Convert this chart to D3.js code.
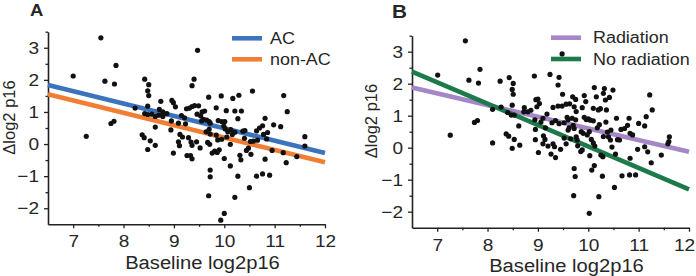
<!DOCTYPE html>
<html><head><meta charset="utf-8">
<script src="https://cdn.jsdelivr.net/npm/d3@7"></script>
<style>
body{margin:0;background:#fff}
svg{display:block}
text{font-family:"Liberation Sans",Arial,Helvetica,sans-serif;fill:#262626}
</style>
</head><body>
<svg id="chart" width="696" height="276"></svg>
<script>
// ---------- data ----------
const xDomain = [6.5, 12];
const yDomain = [-2.5, 3.5];
const xTickValues = [7, 8, 9, 10, 11, 12];
const xMinorTicks = [7.5, 8.5, 9.5, 10.5, 11.5];
const yTickValues = [-2, -1, 0, 1, 2, 3];
const yMinorTicks = [-1.5, -0.5, 0.5, 1.5, 2.5, 3.5];
const xTitle = "Baseline log2p16";
const yTitle = "\u0394log2 p16";
const fitX = [6.5, 12];

const seriesA = ["AC", "non-AC"];
const fitA_AC = [1.84, -0.28];
const fitA_nonAC = [1.55, -0.57];
const seriesB = ["Radiation", "No radiation"];
const fitB_radiation = [1.88, -0.13];
const fitB_noRadiation = [2.38, -1.30];

const pointsA = [
[7.00,2.12],[7.26,0.24],[7.55,3.31],[7.63,1.96],[7.85,2.45],[7.82,1.87],[7.75,0.64],[7.81,0.71],
[8.23,1.12],[8.42,2.02],[8.50,1.85],[8.48,1.66],[8.50,1.51],[8.48,1.18],[8.42,0.95],[8.48,0.92],
[8.56,0.93],[8.63,0.86],[8.37,0.29],[8.41,0.20],[8.53,0.10],[8.48,-0.17],[8.63,-0.04],[8.63,0.53],
[8.74,1.33],[8.71,1.08],[8.78,1.00],[8.86,0.95],[8.78,0.86],[8.70,0.90],[8.96,1.36],[8.99,1.29],
[9.03,1.16],[8.95,0.72],[8.94,0.44],[8.99,-0.28],[9.09,0.07],[9.17,0.22],[9.11,-0.05],[9.15,0.89],
[9.21,0.82],[9.23,0.63],[9.09,0.65],[9.26,-0.36],[9.33,-0.36],[9.29,0.20],[9.34,0.06],[9.36,-0.04],
[9.36,-0.46],[9.31,1.12],[9.36,1.17],[9.41,1.20],[9.49,1.19],[9.36,1.82],[9.40,2.02],[9.47,2.92],
[9.56,1.00],[9.61,1.03],[9.46,0.93],[9.53,0.88],[9.45,0.07],[9.52,-0.12],[9.55,0.72],[9.59,0.77],
[9.65,0.75],[9.70,0.70],[9.72,0.65],[9.69,1.46],[9.84,1.13],[9.70,0.46],[9.72,0.31],[9.64,0.38],
[9.67,0.05],[9.71,-0.01],[9.76,-0.28],[9.81,-0.22],[9.86,-0.26],[9.90,-0.18],[9.72,-0.81],[9.72,-1.02],
[9.69,-1.61],[9.84,0.28],[9.87,0.13],[9.88,0.73],[9.95,0.70],[10.01,0.70],[9.94,1.50],[9.99,0.56],
[10.02,0.47],[10.07,0.38],[10.00,-0.45],[10.00,-2.16],[9.93,-2.37],[10.04,1.04],[10.12,-0.01],[10.12,-0.68],
[10.17,1.42],[10.21,1.03],[10.13,0.45],[10.16,0.30],[10.21,0.37],[10.29,1.52],[10.34,1.03],[10.27,0.79],
[10.31,-0.35],[10.33,-0.49],[10.27,-1.00],[10.21,-1.66],[10.37,0.40],[10.40,0.18],[10.44,-0.20],[10.48,-0.13],
[10.50,-1.36],[10.53,-0.32],[10.52,0.08],[10.58,0.09],[10.56,1.65],[10.64,0.41],[10.70,0.50],[10.76,0.57],
[10.81,0.80],[10.64,-1.00],[10.76,-0.93],[10.90,-0.97],[10.81,-0.47],[10.78,0.30],[10.86,0.36],[10.84,0.16],
[10.98,0.60],[10.95,-0.20],[11.12,0.54],[11.18,1.51],[11.25,1.01],[11.23,-0.58],[11.17,-0.27],[11.44,-0.39],
[11.60,0.23],[11.60,-0.06],[9.25,1.10],[9.12,0.30],[9.95,0.15],[10.05,0.22],[10.41,0.42],[10.66,0.12]
];

const pointsB = [
[7.01,2.27],[7.26,0.39],[7.56,3.34],[7.63,2.11],[7.85,2.45],[7.82,2.02],[7.74,0.79],[7.80,0.85],
[8.10,1.20],[8.10,0.15],[8.25,2.08],[8.27,1.27],[8.43,2.19],[8.51,2.01],[8.49,1.82],[8.51,1.67],
[8.49,1.33],[8.40,1.10],[8.47,1.02],[8.53,1.02],[8.37,0.43],[8.42,0.36],[8.53,0.26],[8.49,-0.02],
[8.64,0.08],[8.62,0.68],[8.73,1.25],[8.72,1.12],[8.80,1.12],[8.86,1.17],[8.93,2.24],[8.96,1.50],
[9.00,1.52],[9.03,1.38],[8.98,1.28],[8.94,0.87],[9.06,0.80],[8.95,0.57],[8.95,0.25],[9.11,0.37],
[9.14,0.26],[9.10,0.12],[9.01,-0.15],[9.18,1.05],[9.24,2.29],[9.42,2.20],[9.40,1.96],[9.49,1.67],
[9.30,1.26],[9.40,1.30],[9.48,1.30],[9.56,1.36],[9.63,1.37],[9.58,0.95],[9.60,0.87],[9.28,0.78],
[9.35,0.85],[9.42,0.75],[9.26,-0.20],[9.35,-0.31],[9.30,0.12],[9.33,0.03],[9.20,0.05],[9.45,-0.05],
[9.52,0.30],[9.56,0.12],[9.60,0.55],[9.62,0.62],[9.69,1.59],[9.75,1.51],[9.72,1.28],[9.76,1.13],
[9.68,0.92],[9.75,0.87],[9.70,0.70],[9.72,0.60],[9.76,0.34],[9.78,0.24],[9.79,0.06],[9.72,-0.65],
[9.74,-0.90],[9.71,-1.50],[9.85,-0.12],[9.88,-0.07],[9.92,1.63],[9.95,1.44],[9.88,1.25],[9.86,0.50],
[9.90,0.45],[9.92,0.95],[9.96,0.88],[10.00,0.90],[10.04,0.86],[10.10,0.84],[10.03,-0.25],[10.02,-2.05],
[10.07,-0.70],[10.10,1.23],[10.06,0.26],[10.10,0.15],[10.13,0.05],[10.12,-0.56],[10.12,1.88],[10.16,1.59],
[10.21,-1.53],[10.20,1.18],[10.24,1.22],[10.28,-0.89],[10.25,-0.23],[10.29,-0.28],[10.32,1.85],[10.30,1.70],
[10.34,1.49],[10.36,1.18],[10.38,0.49],[10.40,0.34],[10.44,0.24],[10.47,0.02],[10.49,1.80],[10.42,1.57],
[10.52,-1.24],[10.54,-0.20],[10.58,0.25],[10.62,0.24],[10.67,-0.88],[10.65,0.57],[10.72,0.60],[10.78,0.70],
[10.81,0.92],[10.83,0.45],[10.88,0.40],[10.82,-0.85],[10.83,-0.33],[10.94,-0.85],[10.98,-0.05],[11.00,0.76],
[11.12,0.68],[11.15,0.97],[11.22,1.65],[11.27,1.18],[11.12,0.03],[11.18,-0.13],[11.25,-0.47],[11.45,-0.23],
[11.60,0.19],[11.61,0.34],[11.58,0.12],[9.48,2.93],[9.10,0.92],[9.15,0.62],[9.52,0.78],[9.65,0.28],
[10.35,0.80],[10.30,0.35],[10.18,0.62],[10.22,0.72],[9.98,0.40],[10.02,0.50],[10.56,0.92],[10.45,0.55]
];

// ---------- drawing ----------
const svg = d3.select("#chart");
const STRETCH = 1.12;

function panel(cfg) {
  const g = svg.append("g");
  const x = d3.scaleLinear().domain(xDomain).range([cfg.x0, cfg.x1]);
  const y = d3.scaleLinear().domain(yDomain).range([cfg.y0, cfg.y1]);

  // minor ticks
  g.append("g").attr("transform", `translate(0,${cfg.y0})`)
    .call(d3.axisBottom(x).tickValues(xMinorTicks).tickSize(2.5).tickFormat(""))
    .call(a => a.select(".domain").remove());
  g.append("g").attr("transform", `translate(${cfg.x0},0)`)
    .call(d3.axisLeft(y).tickValues(yMinorTicks).tickSize(2.5).tickFormat(""))
    .call(a => a.select(".domain").remove());
  // major axes
  const xa = g.append("g").attr("transform", `translate(0,${cfg.y0})`)
    .call(d3.axisBottom(x).tickValues(xTickValues).tickSize(4).tickPadding(7).tickSizeOuter(0).tickFormat(d3.format("d")));
  g.append("g").attr("transform", `translate(${cfg.x0},0)`)
    .call(d3.axisLeft(y).tickValues(yTickValues).tickSize(4).tickPadding(5).tickSizeOuter(0).tickFormat(d3.format("d")));
  g.selectAll(".tick line").attr("stroke", "#222").attr("stroke-width", 1.3);
  g.selectAll(".domain").attr("stroke", "#222").attr("stroke-width", 1.6);
  g.selectAll(".tick text").attr("font-size", 17).attr("fill", "#262626")
    .style("font-family", '"Liberation Sans",Arial,sans-serif');
  if (cfg.shiftLastX) {
    xa.selectAll(".tick text").filter(d => d === xTickValues[xTickValues.length - 1])
      .attr("x", cfg.shiftLastX);
  }

  // fit lines
  cfg.fits.forEach(f => {
    g.append("path")
      .attr("d", d3.line().x(d => x(d[0])).y(d => y(d[1]))(fitX.map((v, i) => [v, f.vals[i]])))
      .attr("stroke", f.color).attr("stroke-width", 4.6).attr("fill", "none");
  });

  // legend
  cfg.fits.forEach((f, i) => {
    const ly = cfg.legY + i * cfg.legGap;
    g.append("line").attr("x1", cfg.legX).attr("x2", cfg.legX + 30)
      .attr("y1", ly).attr("y2", ly).attr("stroke", f.color).attr("stroke-width", 4.6);
    g.append("text").attr("class", "st").attr("x", cfg.legX + cfg.legText).attr("y", ly + 5.7)
      .attr("font-size", 16).text(f.name);
  });

  // points
  g.append("g").selectAll("circle").data(cfg.points).join("circle")
    .attr("cx", d => x(d[0])).attr("cy", d => y(d[1])).attr("r", 2.6).attr("fill", "#111");

  // titles
  g.append("text").attr("class", "st").attr("x", (cfg.x0 + cfg.x1) / 2 + 16).attr("y", cfg.xTitleY)
    .attr("text-anchor", "middle").attr("font-size", 18).text(xTitle);
  g.append("text").attr("transform", `translate(${cfg.yTitleX},${cfg.yTitleMid}) rotate(-90)`)
    .attr("text-anchor", "middle").attr("font-size", 16.5).text(yTitle);
  g.append("text").attr("class", "st").attr("x", cfg.labX).attr("y", cfg.labY)
    .attr("font-size", cfg.labSize).attr("font-weight", "bold").attr("fill", "#111").text(cfg.label);

  g.selectAll(".tick text").classed("st", true);
}

panel({
  x0: 48, x1: 325, y0: 224.3, y1: 31.7,
  points: pointsA, label: "A", labX: 30, labY: 16, labSize: 16.5,
  fits: [{name: seriesA[0], vals: fitA_AC, color: "#3b74bd"},
         {name: seriesA[1], vals: fitA_nonAC, color: "#f07f35"}],
  legX: 232, legY: 38.3, legGap: 21, legText: 38,
  xTitleY: 269, yTitleX: 15, yTitleMid: 117.5
});
panel({
  x0: 412, x1: 689, y0: 227.7, y1: 35.7,
  points: pointsB, label: "B", labX: 392, labY: 18, labSize: 18.5,
  fits: [{name: seriesB[0], vals: fitB_radiation, color: "#a586c6"},
         {name: seriesB[1], vals: fitB_noRadiation, color: "#1d7a4b"}],
  legX: 551, legY: 37.7, legGap: 21.3, legText: 42,
  xTitleY: 271.5, yTitleX: 377, yTitleMid: 121, shiftLastX: -5
});

// horizontal stretch of text to match the reference's proportions
svg.selectAll("text.st").each(function () {
  const w = this.getComputedTextLength();
  this.setAttribute("textLength", (w * STRETCH).toFixed(2));
  this.setAttribute("lengthAdjust", "spacingAndGlyphs");
});
</script>
</body></html>
